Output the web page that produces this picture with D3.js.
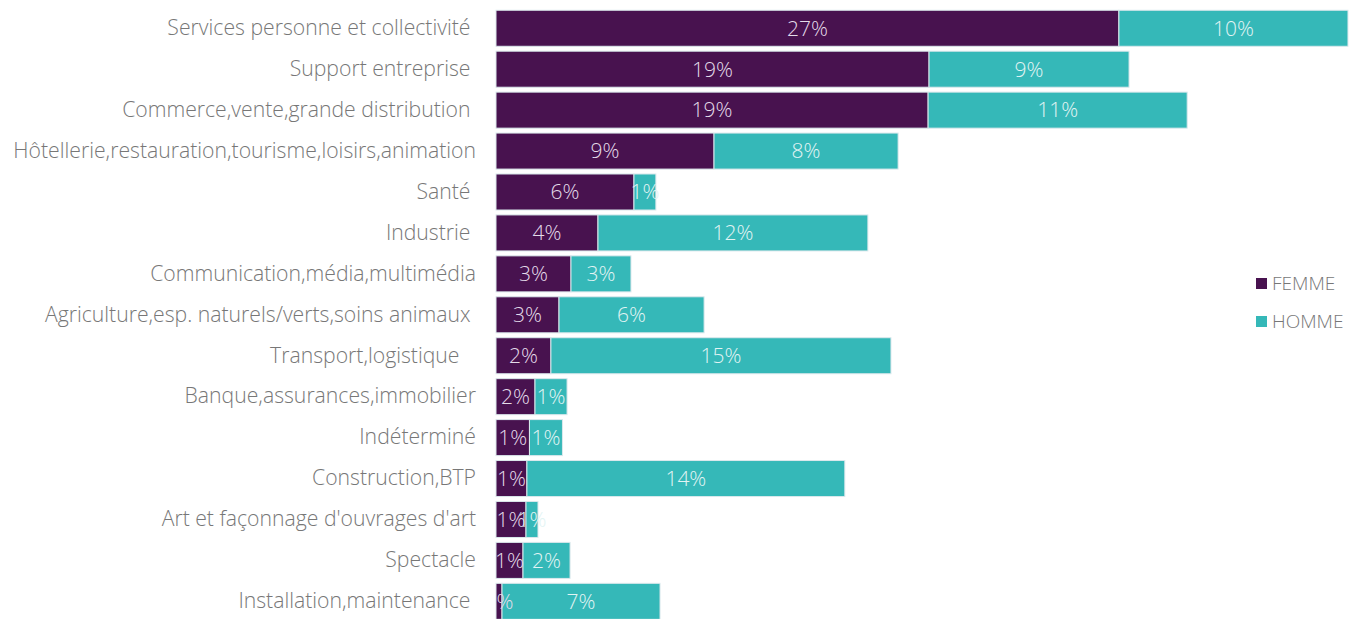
<!DOCTYPE html>
<html>
<head>
<meta charset="utf-8">
<script src="https://cdn.jsdelivr.net/npm/d3@7"></script>
<style>
  body { margin: 0; background: #fff; }
  text { font-family: "Open Sans", "Lato", sans-serif; font-weight: 300; }
  .cat text { white-space: pre; }
</style>
</head>
<body>
<div class="canvas"></div>
<script>
// data (percent)
const categories = [
  'Services personne et collectivité ',
  'Support entreprise ',
  'Commerce,vente,grande distribution ',
  'Hôtellerie,restauration,tourisme,loisirs,animation',
  'Santé ',
  'Industrie ',
  'Communication,média,multimédia',
  'Agriculture,esp. naturels/verts,soins animaux ',
  'Transport,logistique   ',
  'Banque,assurances,immobilier',
  'Indéterminé',
  'Construction,BTP',
  "Art et façonnage d'ouvrages d'art",
  'Spectacle',
  'Installation,maintenance '
];
const femme = [27.0, 18.77, 18.73, 9.45, 5.98, 4.42, 3.25, 2.73, 2.38, 1.69, 1.45, 1.34, 1.30, 1.17, 0.26];
const homme = [9.93, 8.67, 11.23, 7.98, 0.95, 11.70, 2.60, 6.29, 14.74, 1.39, 1.43, 13.78, 0.52, 2.04, 6.85];
const seriesNames = ['FEMME', 'HOMME'];
const colors = ['#48124f', '#35b8b8'];

const width = 1356, height = 619;

const svg = d3.select('.canvas')
  .append('svg')
    .attr('width', width)
    .attr('height', height);

const rows = categories.map((c, i) => ({ cat: c, FEMME: femme[i], HOMME: homme[i] }));
const stacked = d3.stack().keys(seriesNames)(rows);

const x = d3.scaleLinear()
  .domain([0, 40])
  .range([496, 496 + 40 * 23.07]);

const y = d3.scaleBand()
  .domain(categories)
  .range([7.8, 621.8])
  .paddingInner(0.12)
  .paddingOuter(0.06);

const color = d3.scaleOrdinal().domain(seriesNames).range(colors);

// labels are light, so they vanish on white; keep them off the category text
svg.append('defs').append('clipPath')
  .attr('id', 'plot')
  .append('rect')
    .attr('x', x(0)).attr('y', 0)
    .attr('width', width - x(0)).attr('height', height);

const layers = svg.selectAll('g.layer')
  .data(stacked)
  .enter()
  .append('g')
    .attr('class', 'layer')
    .attr('fill', d => color(d.key));

layers.selectAll('rect')
  .data(d => d)
  .enter()
  .append('rect')
    .attr('x', d => x(d[0]))
    .attr('y', d => y(d.data.cat))
    .attr('width', d => x(d[1]) - x(d[0]))
    .attr('height', y.bandwidth())
    .attr('stroke', '#dbe8ec')
    .attr('stroke-width', 1);

const labels = svg.append('g').attr('clip-path', 'url(#plot)');
stacked.forEach((layer, li) => {
  labels.selectAll(`text.l${li}`)
    .data(layer)
    .enter()
    .append('text')
      .attr('class', `l${li}`)
      .attr('x', d => (x(d[0]) + x(d[1])) / 2)
      .attr('y', d => y(d.data.cat) + y.bandwidth() / 2)
      .attr('dy', '0.35em')
      .attr('text-anchor', 'middle')
      .attr('fill', li === 0 ? '#e4dcea' : '#e2f4f4')
      .style('font-size', '21px')
      .text(d => Math.round(d[1] - d[0]) + '%');
});

// category axis
const yAxis = d3.axisLeft(y).tickSize(0).tickPadding(0);
const yGroup = svg.append('g')
  .attr('class', 'cat')
  .attr('transform', 'translate(476,0)')
  .call(yAxis);
yGroup.select('.domain').remove();
yGroup.selectAll('text')
  .attr('fill', '#777')
  .style('font-size', '21.2px');

// legend
const legend = svg.append('g')
  .attr('transform', 'translate(1256,278)');
seriesNames.forEach((name, i) => {
  const g = legend.append('g').attr('transform', `translate(0,${i * 38})`);
  g.append('rect')
    .attr('width', 11).attr('height', 11)
    .attr('fill', colors[i]);
  g.append('text')
    .attr('x', 16).attr('y', 5.5).attr('dy', '0.35em')
    .attr('fill', '#777')
    .style('font-size', '19px')
    .text(name);
});
</script>
</body>
</html>
